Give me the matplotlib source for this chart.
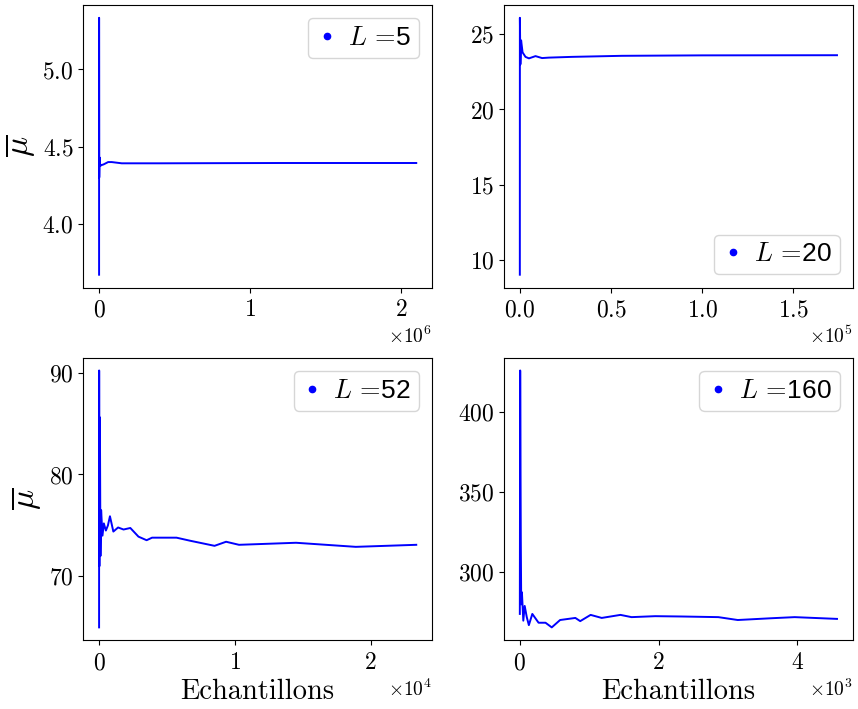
import matplotlib
matplotlib.use('Agg')
import matplotlib.pyplot as plt
from matplotlib.lines import Line2D

plt.rcParams['font.family'] = 'serif'
plt.rcParams['font.serif'] = ['cmr10']
plt.rcParams['mathtext.fontset'] = 'cm'
plt.rcParams['axes.formatter.use_mathtext'] = True
plt.rcParams['axes.formatter.limits'] = [-3, 3]

# valeurs (moyenne cumulée en fonction du nombre d'échantillons)
L_values = [5, 20, 52, 160]

x5 = [0, 40, 900, 3000, 8000, 15000, 30000, 60000, 84000, 150000, 400000, 800000,
      1200000, 1600000, 2100000]
y5 = [3.67, 5.335, 4.30, 4.43, 4.375, 4.38, 4.385, 4.40, 4.40, 4.392, 4.392, 4.393,
      4.394, 4.394, 4.394]

x20 = [0, 30, 300, 700, 1500, 3100, 5000, 8600, 12200, 15900, 28500, 56000, 100000, 174000]
y20 = [9.0, 26.1, 23.0, 24.6, 23.8, 23.5, 23.4, 23.55, 23.42, 23.45, 23.5, 23.57, 23.6, 23.61]

x52 = [0, 5, 20, 60, 100, 150, 250, 350, 500, 650, 800, 1050, 1400, 1800, 2300, 2900,
       3500, 3900, 5700, 6700, 8500, 9350, 10300, 14500, 18900, 23350]
y52 = [65.0, 90.2, 71.0, 85.6, 72.0, 76.5, 74.0, 75.2, 74.5, 75.0, 75.9, 74.4, 74.8,
       74.6, 74.75, 73.9, 73.55, 73.8, 73.8, 73.5, 73.0, 73.4, 73.1, 73.3, 72.9, 73.1]

x160 = [0, 5, 14, 20, 30, 50, 70, 100, 130, 180, 270, 370, 460, 580, 800, 870, 1020,
        1180, 1450, 1610, 1950, 2330, 2860, 3140, 3620, 3960, 4570]
y160 = [274, 426, 318.8, 280, 287.5, 269.8, 279, 272, 267, 274, 268.5, 268.5, 265.6,
        270.2, 271.5, 269.5, 273.4, 271.5, 273.4, 272, 272.6, 272.4, 272, 270.2, 271.3,
        272, 270.9]

series = [(x5, y5), (x20, y20), (x52, y52), (x160, y160)]
yticks = [[4.0, 4.5, 5.0], [10, 15, 20, 25], [70, 80, 90], [300, 350, 400]]
xticks = [[0, 1e6, 2e6], [0, 0.5e5, 1e5, 1.5e5], [0, 1e4, 2e4], [0, 2e3, 4e3]]
legend_loc = ['upper right', 'lower right', 'upper right', 'upper right']

fig, axes = plt.subplots(2, 2, figsize=(8.58, 7.09), dpi=100)
plt.subplots_adjust(left=0.097, right=0.994, bottom=0.097, top=0.993,
                    wspace=0.206, hspace=0.248)

for i, ax in enumerate(axes.flat):
    x, y = series[i]
    ax.plot(x, y, color='blue', linewidth=1.4)
    ax.set_xticks(xticks[i])
    ax.set_yticks(yticks[i])
    ax.tick_params(labelsize=17)
    ax.tick_params(axis='x', pad=5)
    ax.xaxis.get_offset_text().set_fontsize(14)
    handle = Line2D([], [], color='blue', marker='.', linestyle='None', markersize=9)
    ax.legend([handle], [r'$L\,=\!$' + str(L_values[i])], loc=legend_loc[i],
              prop={'family': 'Liberation Sans', 'size': 19},
              handlelength=0.8, handletextpad=0.4, borderpad=0.3)

axes[0, 0].set_ylabel(r'$\overline{\mu}$', fontsize=24)
axes[1, 0].set_ylabel(r'$\overline{\mu}$', fontsize=24)
axes[1, 0].set_xlabel('Echantillons', fontsize=20.5, labelpad=3)
axes[1, 1].set_xlabel('Echantillons', fontsize=20.5, labelpad=3)

plt.savefig('out.png', dpi=100)
